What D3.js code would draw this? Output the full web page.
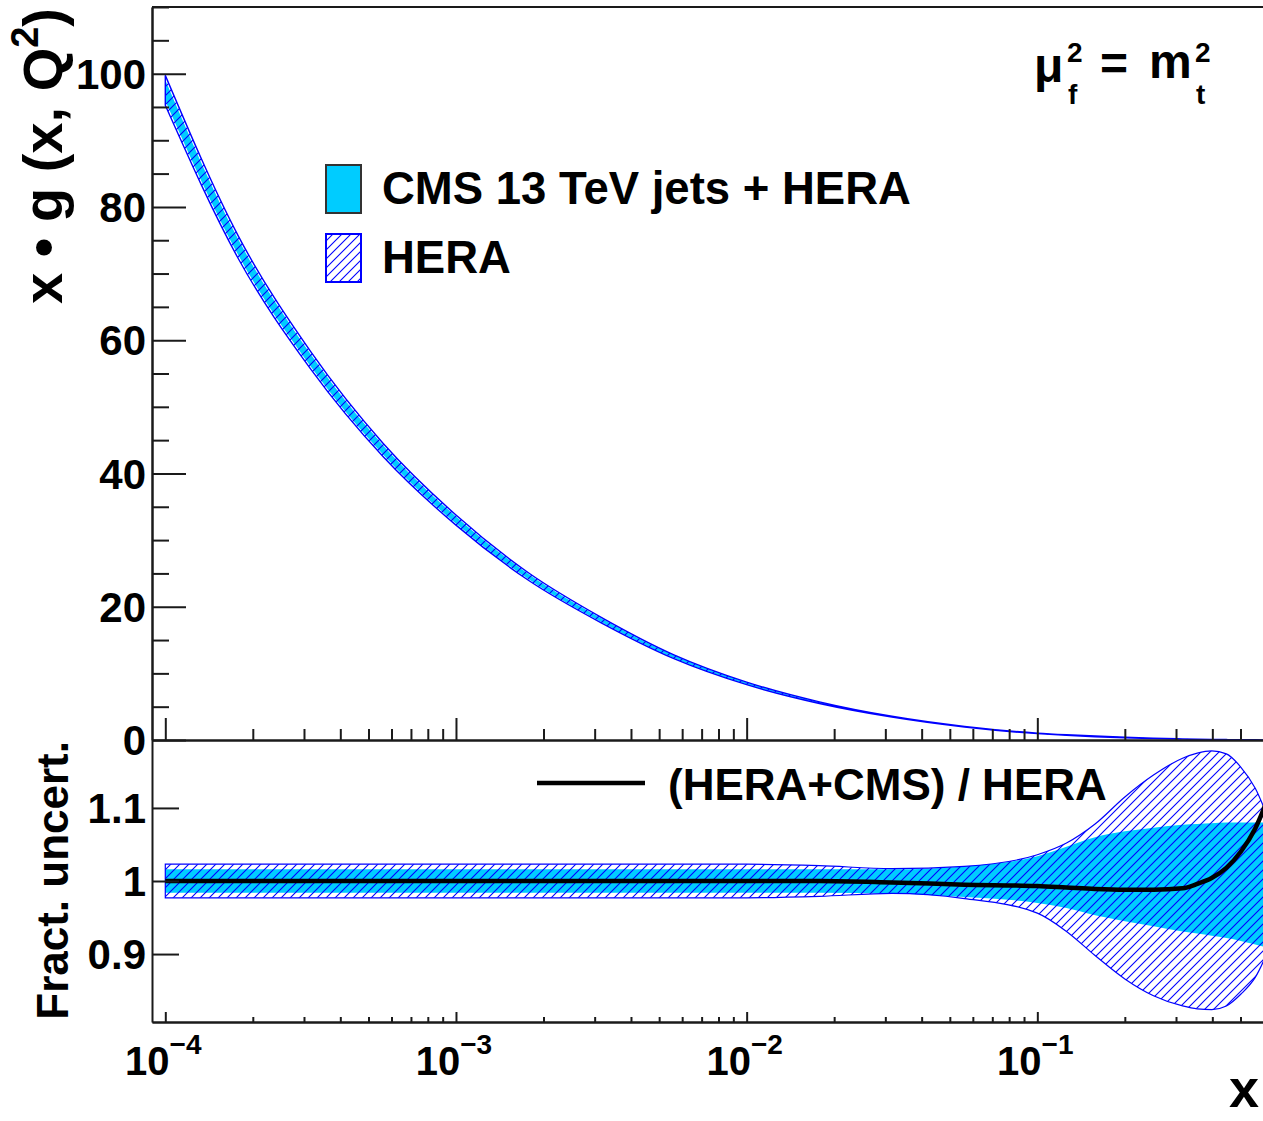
<!DOCTYPE html>
<html><head><meta charset="utf-8">
<script src="https://cdn.jsdelivr.net/npm/d3@7"></script>
<style>
html,body{margin:0;padding:0;background:#fff;overflow:hidden;}
svg{display:block;}
text{font-family:"Liberation Sans",Arial,Helvetica,sans-serif;font-weight:bold;fill:#000;}
</style></head>
<body>
<svg id="c" width="1263" height="1121"></svg>
<script>
// ---- data ----
const xVals = [1e-4, 1.78e-4, 3.16e-4, 5.62e-4, 1e-3, 1.78e-3, 3.16e-3, 5.62e-3, 1e-2, 1.78e-2, 3.16e-2, 5.62e-2, 0.1, 0.126, 0.158, 0.2, 0.251, 0.316, 0.355, 0.398, 0.447, 0.501, 0.562, 0.631];
const xgCentral = [97.5, 74, 57, 43.5, 33, 24.5, 18, 12.5, 8.5, 5.6, 3.5, 2.0, 1.0, 0.75, 0.55, 0.38, 0.25, 0.15, 0.11, 0.08, 0.055, 0.037, 0.024, 0.015];
const heraUp = [1.023,1.023,1.023,1.023,1.023,1.023,1.023,1.023,1.023,1.021,1.017,1.02,1.036,1.052,1.078,1.115,1.145,1.168,1.175,1.178,1.174,1.156,1.127,1.08];
const heraDown = [0.977,0.977,0.977,0.977,0.977,0.977,0.977,0.977,0.977,0.979,0.983,0.976,0.956,0.931,0.898,0.866,0.843,0.829,0.825,0.824,0.829,0.845,0.868,0.91];
const cmsUp = [1.016,1.016,1.016,1.016,1.016,1.016,1.016,1.016,1.016,1.016,1.016,1.02,1.034,1.047,1.06,1.068,1.073,1.077,1.078,1.079,1.08,1.08,1.08,1.08];
const cmsDown = [0.984,0.984,0.984,0.984,0.984,0.984,0.984,0.984,0.984,0.984,0.983,0.978,0.97,0.963,0.953,0.945,0.938,0.931,0.928,0.925,0.922,0.918,0.913,0.908];
const ratioCentral = [1,1,1,1,1,1,1,1,1,1,0.998,0.995,0.993,0.991,0.989,0.988,0.988,0.99,0.996,1.004,1.018,1.04,1.072,1.12];

const xMajor = [1e-4, 1e-3, 1e-2, 1e-1, 1];
const xLabelVals = [1e-4, 1e-3, 1e-2, 1e-1];
const xLabelExp = ["\u22124", "\u22123", "\u22122", "\u22121"];
const yTopMajor = [0, 20, 40, 60, 80, 100];
const yTopLabels = ["0", "20", "40", "60", "80", "100"];
const yRatMajor = [0.9, 1.0, 1.1];
const yRatLabels = ["0.9", "1", "1.1"];
const legendTop = ["CMS 13 TeV jets + HERA", "HERA"];
const legendRatio = "(HERA+CMS) / HERA";

// ---- layout ----
const L = 152, R = 1328, T = 7, MID = 740, B = 1022;
const CYAN = "#00ccff", BLUE = "#0000ff", AX = "#1a1a1a";

const svg = d3.select("#c");
const x = d3.scaleLog().domain([9e-5, 1]).range([L, R]);
const yT = d3.scaleLinear().domain([0, 110]).range([MID, T]);
const yR = d3.scaleLinear().domain([0.807, 1.193]).range([B, MID]);

const defs = svg.append("defs");
const hs = 9;
const pat = defs.append("pattern").attr("id", "hatch").attr("patternUnits", "userSpaceOnUse")
  .attr("width", hs).attr("height", hs);
pat.append("path").attr("d", `M-1,1 l2,-2 M0,${hs} l${hs},${-hs} M${hs-1},${hs+1} l2,-2`)
  .attr("stroke", BLUE).attr("stroke-width", 1.1);
defs.append("clipPath").attr("id", "clipT").append("rect").attr("x", L).attr("y", T).attr("width", R - L).attr("height", MID - T);
defs.append("clipPath").attr("id", "clipR").append("rect").attr("x", L).attr("y", MID).attr("width", R - L).attr("height", B - MID);

const idx = d3.range(xVals.length);

// ---- top panel ----
const gT = svg.append("g").attr("clip-path", "url(#clipT)");
const areaT = (lo, hi) => d3.area().curve(d3.curveMonotoneX)
  .x(i => x(xVals[i])).y0(i => yT(xgCentral[i] * lo[i])).y1(i => yT(xgCentral[i] * hi[i]));
gT.append("path").datum(idx).attr("d", areaT(cmsDown, cmsUp)).attr("fill", CYAN);
gT.append("path").datum(idx).attr("d", areaT(heraDown, heraUp)).attr("fill", "url(#hatch)")
  .attr("stroke", BLUE).attr("stroke-width", 1.4);

// ---- ratio panel ----
const gR = svg.append("g").attr("clip-path", "url(#clipR)");
const areaR = (lo, hi) => d3.area().curve(d3.curveMonotoneX)
  .x(i => x(xVals[i])).y0(i => yR(lo[i])).y1(i => yR(hi[i]));
gR.append("path").datum(idx).attr("d", areaR(cmsDown, cmsUp)).attr("fill", CYAN);
gR.append("path").datum(idx).attr("d", areaR(heraDown, heraUp)).attr("fill", "url(#hatch)")
  .attr("stroke", BLUE).attr("stroke-width", 1.2);
gR.append("path").datum(idx).attr("d", d3.line().curve(d3.curveMonotoneX)
  .x(i => x(xVals[i])).y(i => yR(ratioCentral[i])))
  .attr("fill", "none").attr("stroke", "#000").attr("stroke-width", 4.5);

// ---- axes ----
function styleAxis(g) {
  g.selectAll("path.domain").attr("stroke", AX).attr("stroke-width", 2);
  g.selectAll(".tick line").attr("stroke", AX).attr("stroke-width", 2);
  g.selectAll(".tick text").remove();
}
const decades = [-4, -3, -2, -1];
const xMinor = [];
decades.forEach(d => { for (let m = 2; m <= 9; m++) xMinor.push(m * Math.pow(10, d)); });

svg.append("g").attr("transform", `translate(0,${MID})`)
  .call(d3.axisBottom(x).tickValues(xMajor).tickSize(-22).tickSizeOuter(0)).call(styleAxis);
svg.append("g").attr("transform", `translate(0,${MID})`)
  .call(d3.axisBottom(x).tickValues(xMinor).tickSize(-11).tickSizeOuter(0)).call(styleAxis);
svg.append("g").attr("transform", `translate(0,${B})`)
  .call(d3.axisBottom(x).tickValues(xMajor).tickSize(-10).tickSizeOuter(0)).call(styleAxis);
svg.append("g").attr("transform", `translate(0,${B})`)
  .call(d3.axisBottom(x).tickValues(xMinor).tickSize(-5).tickSizeOuter(0)).call(styleAxis);
svg.append("line").attr("x1", L).attr("x2", R).attr("y1", T).attr("y2", T).attr("stroke", AX).attr("stroke-width", 2);

const yTopMinor = d3.range(0, 111, 5).filter(v => v % 20 !== 0);
svg.append("g").attr("transform", `translate(${L},0)`)
  .call(d3.axisLeft(yT).tickValues(yTopMajor).tickSize(-34).tickSizeOuter(0)).call(styleAxis);
svg.append("g").attr("transform", `translate(${L},0)`)
  .call(d3.axisLeft(yT).tickValues(yTopMinor).tickSize(-17).tickSizeOuter(0)).call(styleAxis);
yTopMajor.forEach((v, i) => {
  svg.append("text").attr("x", 146).attr("y", yT(v)).attr("dy", "0.36em")
    .attr("text-anchor", "end").attr("font-size", 42).text(yTopLabels[i]);
});
svg.append("g").attr("transform", `translate(${L},0)`)
  .call(d3.axisLeft(yR).tickValues(yRatMajor).tickSize(-27).tickSizeOuter(0)).call(styleAxis);
yRatMajor.forEach((v, i) => {
  svg.append("text").attr("x", 146).attr("y", yR(v)).attr("dy", "0.36em")
    .attr("text-anchor", "end").attr("font-size", 42).text(yRatLabels[i]);
});

xLabelVals.forEach((v, i) => {
  const t = svg.append("text").attr("x", x(v) - 2).attr("y", 1075).attr("text-anchor", "middle").attr("font-size", 40);
  t.append("tspan").text("10");
  t.append("tspan").attr("font-size", 28).attr("dy", -21).text(xLabelExp[i]);
});

// axis titles
const yt = svg.append("text").attr("transform", `translate(62,8) rotate(-90)`)
  .attr("text-anchor", "end").attr("font-size", 56);
yt.append("tspan").text("x \u2022 g (x, Q");
yt.append("tspan").attr("font-size", 38).attr("dy", -24).text("2");
yt.append("tspan").attr("dy", 24).text(")");

svg.append("text").attr("transform", `translate(68,741) rotate(-90)`)
  .attr("text-anchor", "end").attr("font-size", 44).text("Fract. uncert.");

svg.append("text").attr("x", 1229).attr("y", 1107).attr("font-size", 54).text("x");

// scale label mu_f^2 = m_t^2
svg.append("text").attr("x", 1034).attr("y", 82).attr("font-size", 48)
  .attr("font-weight", "normal").attr("font-family", "DejaVu Sans, sans-serif").text("\u03bc");
svg.append("text").attr("x", 1067).attr("y", 62).attr("font-size", 28).text("2");
svg.append("text").attr("x", 1068).attr("y", 104).attr("font-size", 28).text("f");
svg.append("text").attr("x", 1100).attr("y", 80).attr("font-size", 48).text("=");
svg.append("text").attr("x", 1149).attr("y", 78).attr("font-size", 48).text("m");
svg.append("text").attr("x", 1195).attr("y", 62).attr("font-size", 28).text("2");
svg.append("text").attr("x", 1196).attr("y", 104).attr("font-size", 28).text("t");

// legend top
svg.append("rect").attr("x", 326).attr("y", 165).attr("width", 35).attr("height", 48)
  .attr("fill", CYAN).attr("stroke", "#333").attr("stroke-width", 2);
svg.append("rect").attr("x", 326).attr("y", 234).attr("width", 35).attr("height", 48)
  .attr("fill", "url(#hatch)").attr("stroke", BLUE).attr("stroke-width", 2);
svg.append("text").attr("x", 382).attr("y", 204).attr("font-size", 45.5).text(legendTop[0]);
svg.append("text").attr("x", 382).attr("y", 273).attr("font-size", 45.5).text(legendTop[1]);

// legend ratio
svg.append("line").attr("x1", 537).attr("x2", 645).attr("y1", 783).attr("y2", 783)
  .attr("stroke", "#000").attr("stroke-width", 4.5);
svg.append("text").attr("x", 668).attr("y", 800).attr("font-size", 44).text(legendRatio);
</script>
</body></html>
